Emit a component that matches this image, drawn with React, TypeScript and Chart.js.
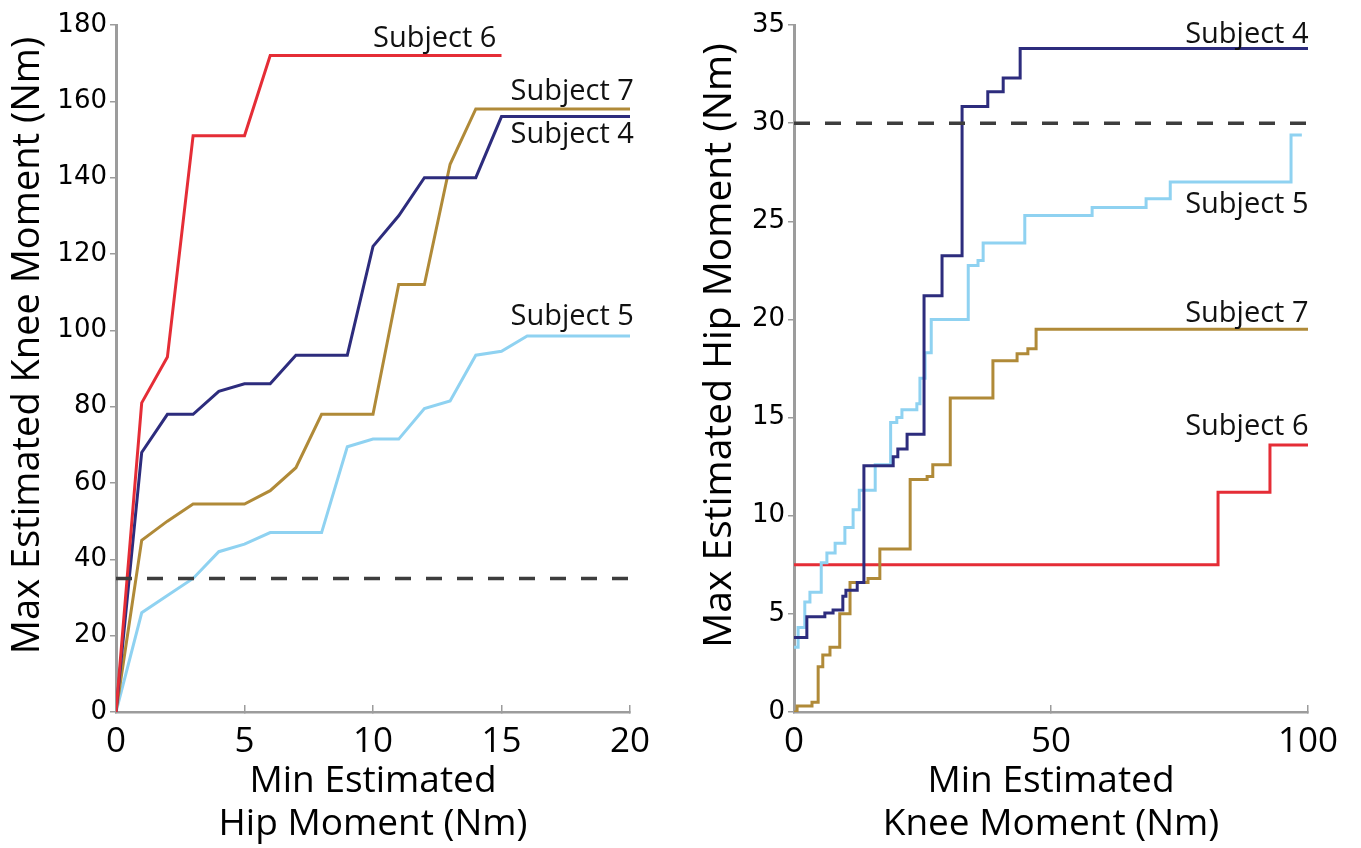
import React, { useEffect, useRef } from 'react';
import { Chart, registerables } from 'chart.js';

Chart.register(...registerables);

// ---------- Left panel: Min Estimated Hip Moment -> Max Estimated Knee Moment ----------
const leftHipS6 = [0, 1, 2, 3, 5, 6, 15];
const leftKneeS6 = [0, 81, 93, 151, 151, 172, 172];

const leftHipS4 = [0, 1, 2, 3, 4, 5, 6, 7, 9, 10, 11, 12, 14, 15, 20];
const leftKneeS4 = [0, 68, 78, 78, 84, 86, 86, 93.5, 93.5, 122, 130, 140, 140, 156, 156];

const leftHipS7 = [0, 1, 2, 3, 5, 6, 7, 8, 10, 11, 12, 13, 14, 20];
const leftKneeS7 = [0, 45, 50, 54.5, 54.5, 58, 64, 78, 78, 112, 112, 143.5, 158, 158];

const leftHipS5 = [0, 1, 2, 3, 4, 5, 6, 8, 9, 10, 11, 12, 13, 14, 15, 16, 20];
const leftKneeS5 = [0, 26, 30.5, 35, 42, 44, 47, 47, 69.5, 71.5, 71.5, 79.5, 81.5, 93.5, 94.5, 98.5, 98.5];

const leftThresholdX = [0, 20];
const leftThresholdY = [35, 35];

const leftLabelNames = ['Subject 6', 'Subject 7', 'Subject 4', 'Subject 5'];
const leftLabelX = [12.4, 17.75, 17.75, 17.75];
const leftLabelY = [174.2, 160.3, 149.1, 101.4];

// ---------- Right panel: Min Estimated Knee Moment -> Max Estimated Hip Moment (step curves) ----------
const rightKneeS4 = [0, 2.5, 6.0, 7.6, 9.5, 10.1, 12.3, 13.6, 19.3, 20.2, 22.0, 25.3, 28.8, 32.7, 37.7, 40.7, 44.0, 100];
const rightHipS4 = [3.8, 4.85, 5.05, 5.2, 5.9, 6.2, 6.6, 12.55, 13.0, 13.4, 14.15, 21.2, 23.25, 30.85, 31.6, 32.3, 33.8, 33.8];

const rightKneeS5 = [0, 0.8, 2.1, 3.1, 5.3, 6.4, 8.0, 9.9, 11.5, 12.7, 15.8, 18.8, 20.0, 21.0, 23.9, 24.5, 25.5, 26.7, 33.9, 35.8, 36.8, 44.9, 58.0, 68.5, 73.2, 96.7, 98.8];
const rightHipS5 = [3.3, 4.3, 5.6, 6.1, 7.6, 8.1, 8.6, 9.4, 10.3, 11.3, 12.6, 14.75, 15.0, 15.4, 15.7, 17.0, 18.3, 20.0, 22.75, 23.0, 23.9, 25.3, 25.7, 26.15, 27.0, 29.4, 29.4];

const rightKneeS7 = [0, 0.6, 3.5, 4.7, 5.6, 7.0, 8.9, 10.9, 14.4, 16.7, 22.6, 25.9, 27.0, 30.4, 38.7, 43.4, 45.5, 47.1, 100];
const rightHipS7 = [0, 0.3, 0.5, 2.3, 2.9, 3.3, 5.0, 6.6, 6.8, 8.3, 11.85, 12.0, 12.6, 16.0, 17.9, 18.25, 18.5, 19.5, 19.5];

const rightKneeS6 = [0, 82.5, 92.6, 100];
const rightHipS6 = [7.5, 11.2, 13.6, 13.6];

const rightThresholdX = [0, 100];
const rightThresholdY = [30, 30];

const rightLabelNames = ['Subject 4', 'Subject 5', 'Subject 7', 'Subject 6'];
const rightLabelX = [88.1, 88.1, 88.1, 88.1];
const rightLabelY = [34.1, 25.4, 19.85, 14.1];

// ---------- Styles ----------
const COLOR_S4 = '#2d2c7d';
const COLOR_S5 = '#8fd2f1';
const COLOR_S6 = '#e52d36';
const COLOR_S7 = '#b08a38';
const COLOR_REF = '#3d3d3d';
const COLOR_AXIS = '#9c9c9c';

const pts = (xs: number[], ys: number[]) => xs.map((x, i) => ({ x, y: ys[i] }));

const seriesLabelPlugin = {
  id: 'seriesLabels',
  afterDatasetsDraw(chart: any, _args: any, opts: any) {
    if (!opts || !opts.names) return;
    const { ctx } = chart;
    const xs = chart.scales.x;
    const ys = chart.scales.y;
    ctx.save();
    ctx.font = '29px "Open Sans"';
    ctx.fillStyle = '#111';
    ctx.textAlign = 'center';
    ctx.textBaseline = 'alphabetic';
    opts.names.forEach((name: string, i: number) => {
      ctx.fillText(name, xs.getPixelForValue(opts.xs[i]), ys.getPixelForValue(opts.ys[i]));
    });
    ctx.restore();
  },
};

const yTitlePlugin = {
  id: 'yTitle',
  afterDraw(chart: any, _args: any, opts: any) {
    if (!opts || !opts.text) return;
    const { ctx, chartArea } = chart;
    ctx.save();
    ctx.translate(opts.cx, (chartArea.top + chartArea.bottom) / 2 + opts.dy);
    ctx.rotate(-Math.PI / 2);
    ctx.font = `${opts.size}px "Open Sans"`;
    ctx.fillStyle = '#000';
    ctx.textAlign = 'center';
    ctx.textBaseline = 'middle';
    ctx.fillText(opts.text, 0, 0);
    ctx.restore();
  },
};

function lineDs(label: string, data: any[], color: string, stepped: any = false) {
  return {
    label,
    data,
    borderColor: color,
    backgroundColor: color,
    borderWidth: 3,
    pointRadius: 0,
    tension: 0,
    stepped,
    fill: false,
  };
}

function refDs(data: any[]) {
  return {
    label: 'threshold',
    data,
    borderColor: COLOR_REF,
    borderWidth: 3.5,
    borderDash: [16, 15],
    pointRadius: 0,
    fill: false,
  };
}

function buildOptions(p: {
  xMax: number; xStep: number; yMax: number; yStep: number;
  yAxisWidth: number; padRight: number; xTitle: string[];
  yTitle: string; yTitleX: number; yTitleSize: number;
  names: string[]; lx: number[]; ly: number[];
}) {
  return {
    responsive: false,
    animation: false,
    events: [],
    layout: { padding: { top: 25, right: p.padRight, left: 0, bottom: 0 } },
    plugins: {
      legend: { display: false },
      tooltip: { enabled: false },
      seriesLabels: { names: p.names, xs: p.lx, ys: p.ly },
      yTitle: { text: p.yTitle, cx: p.yTitleX, dy: -23, size: p.yTitleSize },
    },
    scales: {
      x: {
        type: 'linear',
        min: 0,
        max: p.xMax,
        ticks: {
          stepSize: p.xStep,
          color: '#000',
          font: { family: 'Open Sans', size: 35 },
          padding: 16,
          maxRotation: 0,
          autoSkip: false,
        },
        grid: { drawOnChartArea: false, drawTicks: true, tickLength: -7, color: COLOR_AXIS, lineWidth: 1.5 },
        border: { display: true, color: COLOR_AXIS, width: 2.5 },
        title: {
          display: true,
          text: p.xTitle,
          color: '#000',
          font: { family: 'Open Sans', size: 37, lineHeight: '43px' },
          padding: { top: 0, bottom: 2 },
        },
        afterFit: (s: any) => {
          s.height = 136;
          s.paddingLeft = 0; s.paddingRight = 0; s.paddingTop = 0; s.paddingBottom = 0;
        },
      },
      y: {
        type: 'linear',
        min: 0,
        max: p.yMax,
        ticks: {
          stepSize: p.yStep,
          color: '#000',
          font: { family: 'DejaVu Sans', size: 26 },
          padding: 3,
        },
        grid: { drawOnChartArea: false, drawTicks: true, tickLength: 6, color: COLOR_AXIS, lineWidth: 1.5 },
        border: { display: true, color: COLOR_AXIS, width: 3 },
        afterFit: (s: any) => {
          s.width = p.yAxisWidth;
          s.paddingLeft = 0; s.paddingRight = 0; s.paddingTop = 0; s.paddingBottom = 0;
        },
      },
    },
  };
}

export default function App() {
  const leftRef = useRef<HTMLCanvasElement | null>(null);
  const rightRef = useRef<HTMLCanvasElement | null>(null);

  useEffect(() => {
    document.body.style.margin = '0';
    document.body.style.background = '#fff';

    const left = new Chart(leftRef.current as HTMLCanvasElement, {
      type: 'line',
      data: {
        datasets: [
          refDs(pts(leftThresholdX, leftThresholdY)),
          lineDs('Subject 6', pts(leftHipS6, leftKneeS6), COLOR_S6),
          lineDs('Subject 4', pts(leftHipS4, leftKneeS4), COLOR_S4),
          lineDs('Subject 7', pts(leftHipS7, leftKneeS7), COLOR_S7),
          lineDs('Subject 5', pts(leftHipS5, leftKneeS5), COLOR_S5),
        ],
      },
      options: buildOptions({
        xMax: 20, xStep: 5, yMax: 180, yStep: 20,
        yAxisWidth: 116, padRight: 50,
        xTitle: ['Min Estimated', 'Hip Moment (Nm)'],
        yTitle: 'Max Estimated Knee Moment (Nm)', yTitleX: 28, yTitleSize: 38,
        names: leftLabelNames, lx: leftLabelX, ly: leftLabelY,
      }) as any,
      plugins: [seriesLabelPlugin, yTitlePlugin],
    });

    const right = new Chart(rightRef.current as HTMLCanvasElement, {
      type: 'line',
      data: {
        datasets: [
          refDs(pts(rightThresholdX, rightThresholdY)),
          lineDs('Subject 4', pts(rightKneeS4, rightHipS4), COLOR_S4, 'before'),
          lineDs('Subject 5', pts(rightKneeS5, rightHipS5), COLOR_S5, 'before'),
          lineDs('Subject 7', pts(rightKneeS7, rightHipS7), COLOR_S7, 'before'),
          lineDs('Subject 6', pts(rightKneeS6, rightHipS6), COLOR_S6, 'before'),
        ],
      },
      options: buildOptions({
        xMax: 100, xStep: 50, yMax: 35, yStep: 5,
        yAxisWidth: 114, padRight: 53,
        xTitle: ['Min Estimated', 'Knee Moment (Nm)'],
        yTitle: 'Max Estimated Hip Moment (Nm)', yTitleX: 40, yTitleSize: 39,
        names: rightLabelNames, lx: rightLabelX, ly: rightLabelY,
      }) as any,
      plugins: [seriesLabelPlugin, yTitlePlugin],
    });

    return () => {
      left.destroy();
      right.destroy();
    };
  }, []);

  return (
    <div style={{ position: 'absolute', left: 0, top: 0, width: 1361, height: 848, background: '#fff' }}>
      <canvas ref={leftRef} width={680} height={848} style={{ position: 'absolute', left: 0, top: 0, display: 'block' }} />
      <canvas ref={rightRef} width={681} height={848} style={{ position: 'absolute', left: 680, top: 0, display: 'block' }} />
    </div>
  );
}
